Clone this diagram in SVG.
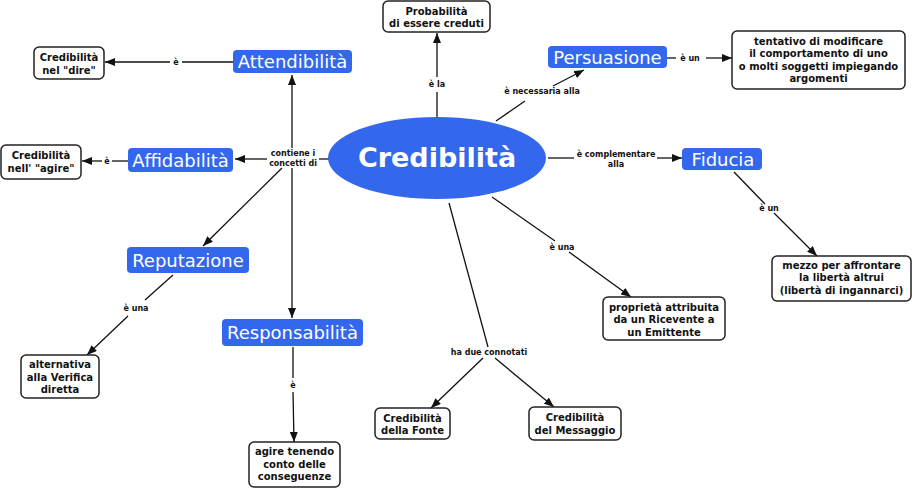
<svg xmlns="http://www.w3.org/2000/svg" width="912" height="489" viewBox="0 0 912 489">
<defs>
<marker id="ah" viewBox="0 0 10 8" refX="10" refY="4" markerWidth="10" markerHeight="8" markerUnits="userSpaceOnUse" orient="auto">
<path d="M0,0 L10,4 L0,8 Z" fill="#111"/>
</marker>
<style>
.c{fill:#3468ec;}
.ct{font-family:"DejaVu Sans",sans-serif;font-size:18px;fill:#fff;text-anchor:middle;}
.b{fill:#fff;stroke:#222;stroke-width:1.5;}
.bt{font-family:"DejaVu Sans",sans-serif;font-size:10px;font-weight:bold;fill:#111;text-anchor:middle;}
.l{stroke:#111;stroke-width:1.3;fill:none;}
.a{marker-end:url(#ah);}
.lt{font-family:"DejaVu Sans",sans-serif;font-size:8px;font-weight:bold;fill:#111;text-anchor:middle;}
</style>
</defs>
<rect width="912" height="489" fill="#fff"/>
<g id="connectors">
<line class="l" x1="329" y1="159" x2="319" y2="159"/>
<line class="l a" x1="292" y1="148" x2="292" y2="75"/>
<line class="l a" x1="267" y1="159" x2="235" y2="159"/>
<line class="l a" x1="282" y1="168" x2="203" y2="246"/>
<line class="l a" x1="292" y1="168" x2="292" y2="318"/>
<line class="l" x1="233" y1="62" x2="182" y2="62"/>
<line class="l a" x1="170" y1="62" x2="105" y2="62"/>
<line class="l" x1="128" y1="161" x2="112" y2="161"/>
<line class="l a" x1="102" y1="161" x2="82" y2="161"/>
<line class="l" x1="173" y1="275" x2="145" y2="300"/>
<line class="l a" x1="128" y1="316" x2="87" y2="355"/>
<line class="l" x1="293" y1="347" x2="293" y2="378"/>
<line class="l a" x1="293" y1="392" x2="294" y2="442"/>
<line class="l" x1="437" y1="117" x2="437" y2="92"/>
<line class="l a" x1="437" y1="77" x2="437" y2="33"/>
<line class="l" x1="496" y1="121" x2="525" y2="101"/>
<line class="l a" x1="553" y1="86" x2="584" y2="70"/>
<line class="l" x1="667" y1="58" x2="676" y2="58"/>
<line class="l a" x1="706" y1="58" x2="732" y2="58"/>
<line class="l" x1="548" y1="158" x2="574" y2="158"/>
<line class="l a" x1="657" y1="158" x2="682" y2="158"/>
<line class="l" x1="734" y1="172" x2="765" y2="204"/>
<line class="l a" x1="774" y1="213" x2="817" y2="256"/>
<line class="l" x1="492" y1="197" x2="555" y2="241"/>
<line class="l a" x1="569" y1="252" x2="631" y2="297"/>
<line class="l" x1="449" y1="203" x2="488" y2="347"/>
<line class="l a" x1="483" y1="358" x2="431" y2="408"/>
<line class="l a" x1="495" y1="358" x2="554" y2="407"/>
<text class="lt" x="293" y="156">contiene i</text>
<text class="lt" x="293" y="166">concetti di</text>
<text class="lt" x="176" y="65">è</text>
<text class="lt" x="107" y="164">è</text>
<text class="lt" x="136" y="311">è una</text>
<text class="lt" x="293" y="388">è</text>
<text class="lt" x="437" y="87">è la</text>
<text class="lt" x="542" y="94">è necessaria alla</text>
<text class="lt" x="690" y="61">è un</text>
<text class="lt" x="616" y="157">è complementare</text>
<text class="lt" x="616" y="167">alla</text>
<text class="lt" x="769" y="211">è un</text>
<text class="lt" x="562" y="250">è una</text>
<text class="lt" x="489" y="355">ha due connotati</text>
</g>
<g id="credibilita">
<ellipse class="c" cx="437" cy="158" rx="109" ry="41"/>
<text x="437" y="167" font-family="DejaVu Sans, sans-serif" font-size="27" font-weight="bold" fill="#fff" text-anchor="middle">Credibilità</text>
</g>
<g id="attendibilita">
<rect class="c" x="233" y="50" width="119" height="23" rx="4"/>
<text class="ct" x="292.5" y="68">Attendibilità</text>
</g>
<g id="affidabilita">
<rect class="c" x="128" y="148" width="105" height="24" rx="4"/>
<text class="ct" x="180.5" y="166.5">Affidabilità</text>
</g>
<g id="reputazione">
<rect class="c" x="127" y="247" width="122" height="26" rx="4"/>
<text class="ct" x="188" y="266.5">Reputazione</text>
</g>
<g id="responsabilita">
<rect class="c" x="222" y="319" width="141" height="27" rx="4"/>
<text class="ct" x="292.5" y="339">Responsabilità</text>
</g>
<g id="persuasione">
<rect class="c" x="548" y="46" width="119" height="22" rx="4"/>
<text class="ct" x="607.5" y="63.5">Persuasione</text>
</g>
<g id="fiducia">
<rect class="c" x="682" y="148" width="80" height="22" rx="4"/>
<text class="ct" x="723" y="165.5">Fiducia</text>
</g>
<g id="dire">
<rect class="b" x="34" y="47" width="70" height="32" rx="5"/>
<text class="bt" x="69" y="60.5">Credibilità</text>
<text class="bt" x="69" y="73.5">nel "dire"</text>
</g>
<g id="agire">
<rect class="b" x="1" y="145" width="80" height="34" rx="5"/>
<text class="bt" x="41" y="158.5">Credibilità</text>
<text class="bt" x="41" y="171.5">nell' "agire"</text>
</g>
<g id="alternativa">
<rect class="b" x="21" y="355" width="78" height="43" rx="5"/>
<text class="bt" x="60" y="367.5">alternativa</text>
<text class="bt" x="60" y="380.5">alla Verifica</text>
<text class="bt" x="60" y="392.5">diretta</text>
</g>
<g id="agire-tenendo">
<rect class="b" x="249" y="442" width="91" height="45" rx="5"/>
<text class="bt" x="294.5" y="454.5">agire tenendo</text>
<text class="bt" x="294.5" y="467.5">conto delle</text>
<text class="bt" x="294.5" y="479.5">conseguenze</text>
</g>
<g id="probabilita">
<rect class="b" x="383" y="1" width="107" height="31" rx="5"/>
<text class="bt" x="436.5" y="14.5">Probabilità</text>
<text class="bt" x="436.5" y="26.5">di essere creduti</text>
</g>
<g id="tentativo">
<rect class="b" x="732" y="31" width="173" height="58" rx="5"/>
<text class="bt" x="818.5" y="44.5">tentativo di modificare</text>
<text class="bt" x="818.5" y="56.5">il comportamento di uno</text>
<text class="bt" x="818.5" y="69.5">o molti soggetti impiegando</text>
<text class="bt" x="818.5" y="81.5">argomenti</text>
</g>
<g id="mezzo">
<rect class="b" x="772" y="256" width="139" height="45" rx="5"/>
<text class="bt" x="841.5" y="268.5">mezzo per affrontare</text>
<text class="bt" x="841.5" y="280.5">la libertà altrui</text>
<text class="bt" x="841.5" y="293.5">(libertà di ingannarci)</text>
</g>
<g id="proprieta">
<rect class="b" x="603" y="297" width="122" height="43" rx="5"/>
<text class="bt" x="664" y="310.5">proprietà attribuita</text>
<text class="bt" x="664" y="322.5">da un Ricevente a</text>
<text class="bt" x="664" y="335.5">un Emittente</text>
</g>
<g id="fonte">
<rect class="b" x="375" y="408" width="75" height="31" rx="5"/>
<text class="bt" x="412.5" y="421.5">Credibilità</text>
<text class="bt" x="412.5" y="433.5">della Fonte</text>
</g>
<g id="messaggio">
<rect class="b" x="529" y="407" width="92" height="33" rx="5"/>
<text class="bt" x="575" y="420.5">Credibilità</text>
<text class="bt" x="575" y="433.5">del Messaggio</text>
</g>
</svg>
